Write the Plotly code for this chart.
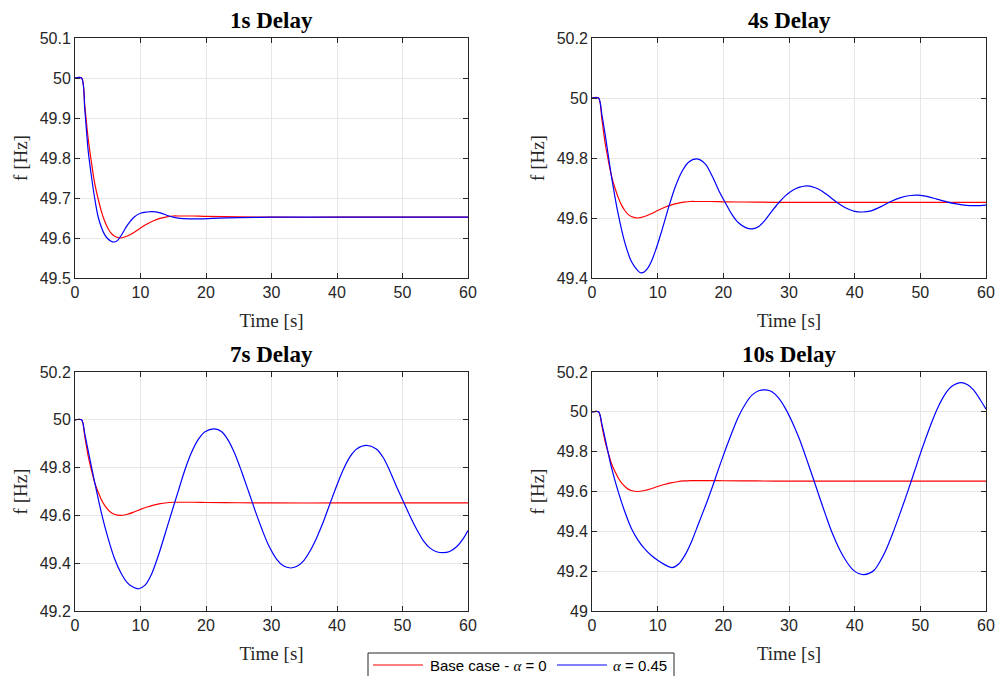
import plotly.graph_objects as go

# ---- data ----
t_base = [0, 1, 1.5, 2, 2.5, 3, 3.5, 4, 4.5, 5, 5.5, 6, 6.9, 8, 9, 10, 11, 12, 13, 14, 15, 16,
          18, 20, 25, 30, 40, 50, 60]
f_base = [50, 50, 49.93, 49.85, 49.79, 49.737, 49.70, 49.668, 49.643, 49.625, 49.612, 49.605,
          49.600, 49.605, 49.614, 49.625, 49.635, 49.643, 49.649, 49.653, 49.655, 49.655,
          49.655, 49.654, 49.653, 49.652, 49.652, 49.652, 49.652]

t_d1 = [0, 1, 1.5, 2, 2.5, 3, 3.5, 4, 4.5, 5, 5.5, 6, 6.5, 7, 8, 9, 10, 11, 11.7, 13, 14, 15,
        16, 17.5, 19, 21, 25, 30, 40, 50, 60]
f_d1 = [50, 50, 49.92, 49.82, 49.755, 49.70, 49.655, 49.628, 49.609, 49.598, 49.592, 49.590,
        49.594, 49.605, 49.632, 49.652, 49.662, 49.665, 49.666, 49.663, 49.657, 49.652, 49.649,
        49.648, 49.648, 49.649, 49.651, 49.652, 49.652, 49.652, 49.652]

t_d4 = [0, 1, 1.5, 2, 3, 4, 5, 6, 7, 7.45, 8, 8.6, 9.1, 9.6, 10.1, 10.7, 11.7, 12.7, 13.7,
        14.7, 16, 17.3, 18.3, 19.3, 20.3, 21.3, 22.3, 23.4, 24.45, 25.4, 26.4, 27.4, 28.4, 29.4,
        30.45, 31.5, 32.8, 34, 35, 36, 37, 38, 39, 40, 41.2, 42.5, 44, 45.5, 47, 48.5, 49.7, 51,
        52.5, 54, 55.5, 57, 58.5, 60]
f_d4 = [50, 50, 49.945, 49.879, 49.734, 49.612, 49.518, 49.455, 49.424, 49.417, 49.421, 49.436,
        49.458, 49.487, 49.52, 49.563, 49.638, 49.705, 49.755, 49.786, 49.797, 49.779, 49.74,
        49.692, 49.651, 49.612, 49.584, 49.568, 49.564, 49.572, 49.594, 49.623, 49.650, 49.673,
        49.691, 49.702, 49.707, 49.701, 49.69, 49.674, 49.657, 49.642, 49.630, 49.622, 49.620,
        49.624, 49.638, 49.655, 49.668, 49.675, 49.676, 49.672, 49.663, 49.654, 49.647, 49.642,
        49.641, 49.643]

t_d7 = [0, 1, 1.5, 2, 3, 4, 5, 6, 7, 8, 9, 9.7, 10.7, 11.7, 12.7, 13.7, 14.75, 15.8, 16.8, 17.8,
        18.8, 19.85, 21.3, 22.4, 23.4, 24.4, 25.4, 26.5, 27.5, 28.5, 29.5, 30.8, 31.8, 32.9,
        33.8, 34.9, 35.9, 36.9, 37.9, 38.9, 39.95, 41, 42, 43, 44.5, 46, 47.1, 48.1, 49.1, 50.1,
        51.1, 52.2, 53.2, 54.2, 55.2, 56.2, 57.2, 58.3, 59.3, 60]
f_d7 = [50, 50, 49.94, 49.872, 49.739, 49.614, 49.509, 49.422, 49.36, 49.318, 49.298, 49.293,
        49.308, 49.355, 49.43, 49.518, 49.612, 49.705, 49.792, 49.864, 49.917, 49.950, 49.962,
        49.950, 49.914, 49.858, 49.786, 49.700, 49.620, 49.545, 49.478, 49.416, 49.389, 49.380,
        49.386, 49.410, 49.452, 49.507, 49.572, 49.647, 49.724, 49.794, 49.846, 49.878, 49.893,
        49.878, 49.840, 49.784, 49.720, 49.660, 49.600, 49.540, 49.493, 49.463, 49.448, 49.444,
        49.449, 49.470, 49.504, 49.537]

t_d10 = [0, 1, 1.5, 2, 3, 4, 5, 6, 7, 8, 9, 10, 11, 12.2, 13.2, 14.2, 15.2, 16.2, 17.3, 18.3,
         19.3, 20.3, 21.3, 22.3, 23.4, 24.4, 25.4, 26.5, 27.4, 28.4, 29.4, 30.5, 31.6, 32.6,
         33.6, 34.6, 35.6, 36.6, 37.7, 38.7, 39.7, 40.6, 41.4, 42.2, 43, 43.8, 44.8, 45.8, 46.8,
         47.8, 48.8, 49.8, 50.8, 51.8, 52.8, 53.8, 54.8, 56.2, 57.2, 58.1, 59.1, 60]
f_d10 = [50, 50, 49.94, 49.866, 49.716, 49.598, 49.498, 49.414, 49.356, 49.313, 49.28, 49.255,
         49.234, 49.218, 49.236, 49.283, 49.352, 49.437, 49.53, 49.62, 49.716, 49.808, 49.895,
         49.975, 50.042, 50.085, 50.106, 50.11, 50.101, 50.07, 50.02, 49.948, 49.862, 49.77,
         49.674, 49.576, 49.48, 49.39, 49.309, 49.251, 49.208, 49.188, 49.183, 49.189, 49.206,
         49.245, 49.309, 49.39, 49.48, 49.573, 49.67, 49.77, 49.865, 49.953, 50.03, 50.09,
         50.128, 50.147, 50.136, 50.11, 50.062, 50.013]

titles = ["1s Delay", "4s Delay", "7s Delay", "10s Delay"]
alpha_series = [(t_d1, f_d1), (t_d4, f_d4), (t_d7, f_d7), (t_d10, f_d10)]
y_ranges = [(49.5, 50.1), (49.4, 50.2), (49.2, 50.2), (49.0, 50.2)]
y_dticks = [0.1, 0.2, 0.2, 0.2]
x_ticks = [0, 10, 20, 30, 40, 50, 60]
legend_labels = ["Base case - <span style='font-family:Liberation Serif'><i>α</i></span> = 0",
                 "<span style='font-family:Liberation Serif'><i>α</i></span> = 0.45"]
colors = ["#ff0000", "#0000ff"]

# ---- layout geometry ----
W, H = 995, 676
x_doms = [(75 / W, 468 / W), (592 / W, 986 / W)]
y_doms = [(1 - 278 / H, 1 - 38 / H), (1 - 611 / H, 1 - 372 / H)]

fig = go.Figure()
serif = "Liberation Serif, Times New Roman, serif"
sans = "Liberation Sans, Arial, sans-serif"

layout = dict(width=W, height=H, margin=dict(l=0, r=0, t=0, b=0), showlegend=False,
              paper_bgcolor="white", plot_bgcolor="white", annotations=[], shapes=[])

for i in range(4):
    row, col = divmod(i, 2)
    ax = "" if i == 0 else str(i + 1)
    xa, ya = "x" + ax, "y" + ax
    fig.add_trace(go.Scatter(x=t_base, y=f_base, mode="lines", xaxis=xa, yaxis=ya,
                             line=dict(color=colors[0], width=1.2, shape="spline", smoothing=0.8),
                             name="Base case - α = 0"))
    tx, fx = alpha_series[i]
    fig.add_trace(go.Scatter(x=tx, y=fx, mode="lines", xaxis=xa, yaxis=ya,
                             line=dict(color=colors[1], width=1.2, shape="spline", smoothing=0.8),
                             name="α = 0.45"))
    common = dict(showline=True, linecolor="#262626", linewidth=1, mirror="ticks",
                  ticks="inside", ticklen=5, tickcolor="#262626", automargin=False,
                  showgrid=True, gridcolor="#e6e6e6", gridwidth=1, zeroline=False,
                  tickfont=dict(family=sans, size=16, color="#262626"))
    layout["xaxis" + ax] = dict(common, domain=x_doms[col], anchor=ya, range=[0, 60],
                                tickvals=x_ticks,
                                title=dict(text="Time [s]", standoff=13,
                                           font=dict(family=serif, size=19, color="#262626")))
    lo, hi = y_ranges[i]
    layout["yaxis" + ax] = dict(common, domain=y_doms[row], anchor=xa, range=[lo, hi],
                                dtick=y_dticks[i], tick0=lo,
                                title=dict(text="f [Hz]", standoff=7,
                                           font=dict(family=serif, size=19, color="#262626")))
    layout["annotations"].append(dict(
        text="<b>" + titles[i] + "</b>", xref="paper", yref="paper",
        x=(x_doms[col][0] + x_doms[col][1]) / 2, y=y_doms[row][1] + 3 / H,
        xanchor="center", yanchor="bottom", showarrow=False,
        font=dict(family=serif, size=23, color="black")))

# ---- legend box drawn like the reference (box runs off the bottom edge) ----
def px(x):
    return x / W

def py(y):
    return 1 - y / H

layout["shapes"].append(dict(type="rect", xref="paper", yref="paper",
                             x0=px(368), x1=px(674), y0=py(690), y1=py(653),
                             line=dict(color="#262626", width=1), fillcolor="white"))
leg_line_x = [(373, 423), (557, 607)]
leg_text_x = [428, 611]
for k in range(2):
    layout["shapes"].append(dict(type="line", xref="paper", yref="paper",
                                 x0=px(leg_line_x[k][0]), x1=px(leg_line_x[k][1]),
                                 y0=py(665), y1=py(665),
                                 line=dict(color=colors[k], width=1.2)))
    layout["annotations"].append(dict(text=legend_labels[k], xref="paper", yref="paper",
                                      x=px(leg_text_x[k]), y=py(665), xanchor="left",
                                      yanchor="middle", showarrow=False,
                                      font=dict(family=sans, size=15, color="black")))

fig.update_layout(**layout)
fig.write_html("out.html", config={"displayModeBar": False},
               post_script="document.body.style.margin='0';")
